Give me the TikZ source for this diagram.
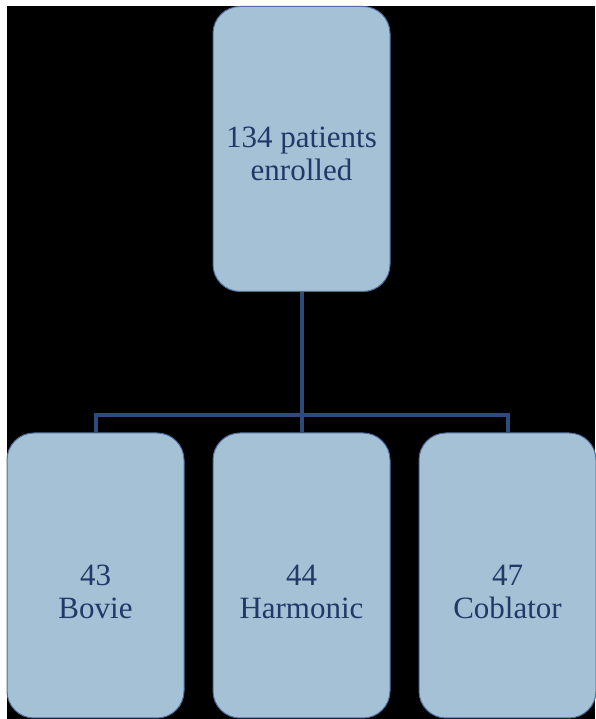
\documentclass[tikz,border=0pt]{standalone}
\usepackage{fontspec}
\setmainfont{Liberation Serif}
\begin{document}
\begin{tikzpicture}[x=1pt,y=1pt,
  box/.style={draw=boxedge, line width=1pt, fill=boxfill, rounded corners=27pt,
    minimum width=177pt, minimum height=285pt, inner sep=0pt},
  lbl/.style={text=txt, align=center, font=\fontsize{31}{33}\selectfont},
  conn/.style={draw=linec, line width=4pt}]
\definecolor{boxfill}{HTML}{A5C1D6}
\definecolor{boxedge}{HTML}{4F6E9E}
\definecolor{txt}{HTML}{1F3A68}
\definecolor{linec}{HTML}{2F4B7C}
\useasboundingbox (0,0) rectangle (595,719);
\fill[white] (0,0) rectangle (595,719);
\fill[black] (7,0) rectangle (595,713);
\node[box] (top) at (301.5,570) {};
\node[box] (b1) at (95.5,143.5) {};
\node[box] (b2) at (301.5,143.5) {};
\node[box] (b3) at (507.5,143.5) {};
\coordinate (j) at (301.5,303.5);
\draw[conn] (top.south) -- (b2.north);
\draw[conn] (b1.north) |- (j) -| (b3.north);
\node[lbl] (t0) at (301.5,565) {134 patients\\enrolled};
\node[lbl] (t1) at (95.5,127) {43\\Bovie};
\node[lbl] (t2) at (301.5,127) {44\\Harmonic};
\node[lbl] (t3) at (507.5,127) {47\\Coblator};
\end{tikzpicture}
\end{document}
